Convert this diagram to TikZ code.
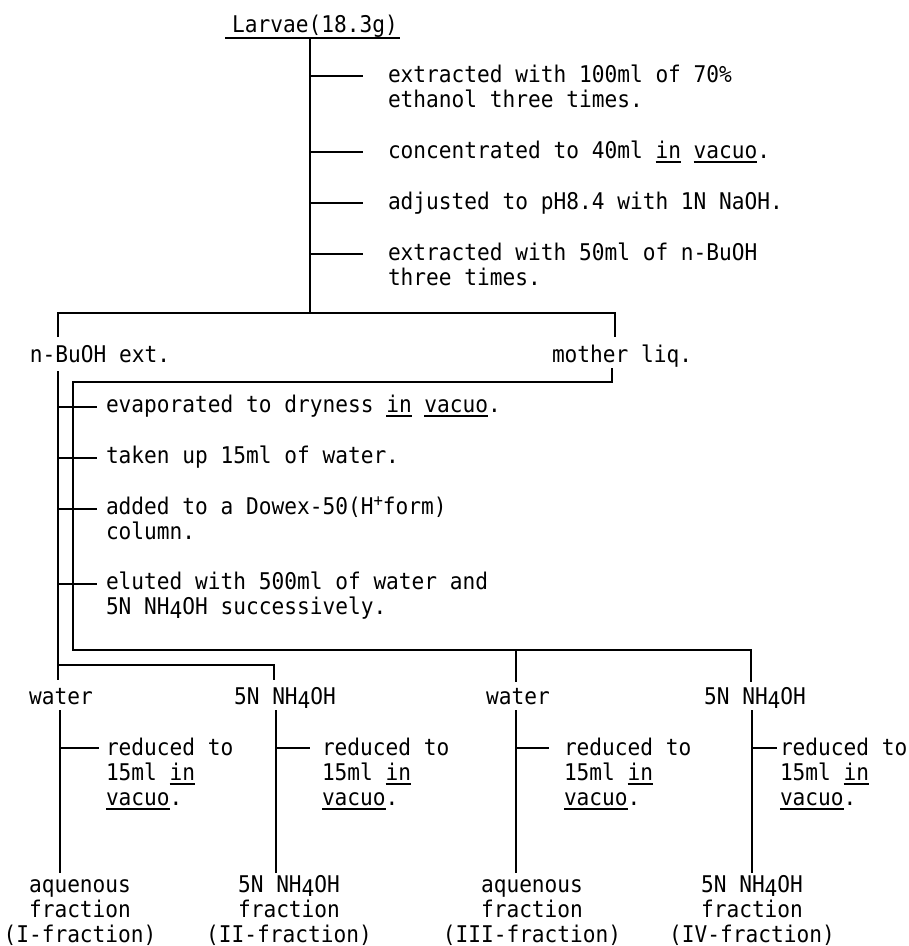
\documentclass[tikz,border=0pt]{standalone}
\usepackage{fontspec}
\newfontfamily\typewr[FakeStretch=0.92]{DejaVu Sans Mono}
\newcommand\lowfour{\raisebox{-4pt}{4}}
\newcommand\hplus{\raisebox{8pt}{\fontsize{17}{17}\selectfont +}}
\newcommand\undl[1]{\setbox0\hbox{#1}\rlap{\rule[-4.5pt]{\wd0}{1.6pt}}\box0\relax}
\begin{document}
\begin{tikzpicture}[x=1pt,y=-1pt,
  txt/.style={inner sep=0pt,outer sep=0pt,anchor=base west,align=left,font=\typewr\fontsize{23}{25}\selectfont},
  ctxt/.style={txt,anchor=base,align=center},
  rule/.style={draw=black,line width=1.3pt},
  tick/.style={draw=black,line width=1.8pt}]
\path[use as bounding box] (0,0) rectangle (909,946);
% starting material
\node[ctxt] (larvae) at (315,32) {Larvae(18.3g)};
\coordinate (ul0) at (225,38);
\coordinate (ul1) at (400,38);
\draw[rule] (ul0) -- (ul1);
\coordinate (t0) at (310,38);
\coordinate (t1) at (310,313);
\draw[rule] (t0) -- (t1);
% extraction steps (base = last line)
\node[txt] (s1) at (388,107) {extracted with 100ml of 70\%\\ethanol three times.};
\node[txt] (s2) at (388,158) {concentrated to 40ml \undl{in} \undl{vacuo}.};
\node[txt] (s3) at (388,209) {adjusted to pH8.4 with 1N NaOH.};
\node[txt] (s4) at (388,285) {extracted with 50ml of n-BuOH\\three times.};
\foreach \n/\up in {s1/31,s2/6,s3/6,s4/31}
  \draw[tick] (\n.base west) ++(-78,-\up) -- ++(53,0);
% first split
\node[txt] (buoh) at (30,362) {n-BuOH ext.};
\node[txt] (mother) at (552,362) {mother liq.};
\coordinate (sl) at (58,313);
\coordinate (sr) at (615,313);
\coordinate (bu top) at (58,337);
\coordinate (ml top) at (615,337);
\draw[rule] (bu top) -- (sl) -- (sr) -- (ml top);
% n-BuOH branch
\coordinate (bu bot) at (58,371);
\coordinate (bu end) at (58,680);
\coordinate (bj) at (58,665);
\coordinate (bk) at (274,665);
\coordinate (bk end) at (274,680);
\draw[rule] (bu bot) -- (bu end);
\draw[rule] (bj) -- (bk) -- (bk end);
% mother liquor branch
\coordinate (ml bot) at (612,368);
\coordinate (ml a) at (612,382);
\coordinate (ml b) at (73,382);
\coordinate (ml c) at (73,650);
\coordinate (ml d) at (751,650);
\coordinate (ml e) at (751,682);
\coordinate (ml f) at (516,650);
\coordinate (ml g) at (516,682);
\draw[rule] (ml bot) -- (ml a) -- (ml b) -- (ml c) -- (ml d) -- (ml e);
\draw[rule] (ml f) -- (ml g);
% column steps
\node[txt] (m1) at (106,412) {evaporated to dryness \undl{in} \undl{vacuo}.};
\node[txt] (m2) at (106,463) {taken up 15ml of water.};
\node[txt] (m3) at (106,539) {added to a Dowex-50(H\hplus form)\\column.};
\node[txt] (m4) at (106,614) {eluted with 500ml of water and\\5N NH\lowfour OH successively.};
\foreach \n/\up in {m1/5,m2/5,m3/30,m4/30}
  \draw[tick] (\n.base west) ++(-48,-\up) -- ++(39,0);
% eluates
\node[ctxt] (w1) at (61,704) {water};
\node[ctxt] (n1) at (285,704) {5N NH\lowfour OH};
\node[ctxt] (w2) at (518,704) {water};
\node[ctxt] (n2) at (755,704) {5N NH\lowfour OH};
\foreach \x in {60,276,516,752}
  \draw[rule] (\x,710) -- (\x,873);
\node[txt] (r1) at (106,805) {reduced to\\15ml \undl{in}\\\undl{vacuo}.};
\node[txt] (r2) at (322,805) {reduced to\\15ml \undl{in}\\\undl{vacuo}.};
\node[txt] (r3) at (564,805) {reduced to\\15ml \undl{in}\\\undl{vacuo}.};
\node[txt] (r4) at (780,805) {reduced to\\15ml \undl{in}\\\undl{vacuo}.};
\foreach \n/\dx/\len in {r1/46/39,r2/46/34,r3/48/33,r4/28/25}
  \draw[tick] (\n.base west) ++(-\dx,-57) -- ++(\len,0);
% fractions
\node[ctxt] (f1) at (80,942) {aquenous\\fraction\\(I-fraction)};
\node[ctxt] (f2) at (289,942) {5N NH\lowfour OH\\fraction\\(II-fraction)};
\node[ctxt] (f3) at (532,942) {aquenous\\fraction\\(III-fraction)};
\node[ctxt] (f4) at (752,942) {5N NH\lowfour OH\\fraction\\(IV-fraction)};
\end{tikzpicture}
\end{document}
